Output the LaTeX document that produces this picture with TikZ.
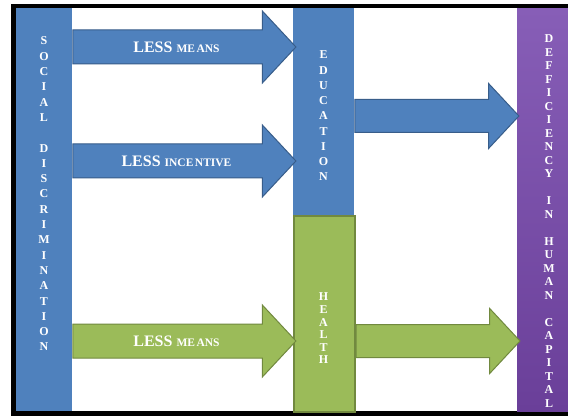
\documentclass[tikz,border=0pt]{standalone}
\usepackage{fontspec}
\setmainfont{Liberation Serif}
\usetikzlibrary{
  arrows.meta,
  positioning,
  shapes.arrows,
  calc
}
\usepackage{xcolor}
\definecolor{barBlue}{rgb}{0.3098,0.5059,0.7412}
\definecolor{edgeBlue}{rgb}{0.2196,0.3647,0.5412}
\definecolor{barGreen}{rgb}{0.6078,0.7333,0.3490}
\definecolor{edgeGreen}{rgb}{0.4431,0.5373,0.2471}
\definecolor{topPurple}{rgb}{0.5294,0.3686,0.7176}
\definecolor{lowPurple}{rgb}{0.4157,0.2471,0.6000}
\newcommand{\smallword}{\fontsize{11.5}{12}\selectfont}
\tikzset{
  bar/.style={
    inner sep=0pt,
    anchor=north west,
    minimum width=#1
  },
  letters/.style={
    inner sep=0pt,
    align=center,
    text=white,
    font=\bfseries\fontsize{12}{#1}\selectfont
  },
  blockarrow/.style 2 args={
    single arrow,
    inner xsep=0pt,
    inner ysep=#1,
    text height=10.5pt,
    text depth=0pt,
    line width=1pt,
    anchor=tail,
    single arrow head extend=#2,
    single arrow tip angle=94,
    text=white,
    font=\bfseries\fontsize{16}{16}\selectfont
  }
}

\begin{document}
\begin{tikzpicture}[x=1pt, y=-1pt]
  \useasboundingbox (0,0) rectangle (568,417);
  % frame
  \fill[black] (11,4) rectangle (568,416);
  \fill[white] (16,8) rectangle (568,411);

  % bars
  \node[bar=56, fill=barBlue, minimum height=403] (social) at (16,8) {};
  \node[bar=61, fill=barBlue, minimum height=207] (education) at (293,8) {};
  \node[bar=61, fill=barGreen, draw=edgeGreen, line width=1.5pt,
    minimum height=196] (health) at (293,215) {};
  \node[bar=51, top color=topPurple, bottom color=lowPurple,
    minimum height=403] (capital) at (517,8) {};

  % stacked letters
  \node[letters=15.3] (socialText) at (44,194)
    {S\\O\\C\\I\\A\\L\\[15.3pt]D\\I\\S\\C\\R\\I\\M\\I\\N\\A\\T\\I\\{\large O}\\{\large N}};
  \node[letters=15.25] (educationText) at (323.5,116)
    {E\\D\\U\\C\\A\\T\\I\\O\\N};
  \node[letters=12.6] (healthText) at (323.5,328.5)
    {H\\E\\A\\L\\T\\H};
  \node[letters=13.5] (capitalText) at (549,221)
    {D\\E\\F\\F\\I\\C\\I\\E\\N\\C\\Y\\[13.5pt]I\\N\\[13.5pt]H\\U\\M\\A\\N\\[13.5pt]C\\A\\P\\I\\T\\A\\L};

  % arrows into the middle bars
  \foreach \nm/\dy/\col/\word in {means/39/Blue/{ME\kern1.5pt ANS},
      incentive/153/Blue/{INCE\kern1.5pt NTIVE},
      healthMeans/333/Green/{ME\kern1.5pt ANS}}{
    \node[blockarrow={11.25pt}{19pt}, fill=bar\col, draw=edge\col,
      minimum height=223] (\nm) at ($(social.north east)+(0,\dy)$)
      {LESS \smallword\word};
  }

  % arrows into human capital
  \node[blockarrow={10.75pt}{16pt}, fill=barBlue, draw=edgeBlue, minimum height=164]
    (eduFlow) at ($(education.north east)+(0,108)$) {};
  \node[blockarrow={10.75pt}{16pt}, fill=barGreen, draw=edgeGreen, minimum height=164]
    (healthFlow) at ($(health.north east)+(0,126)$) {};
\end{tikzpicture}
\end{document}
